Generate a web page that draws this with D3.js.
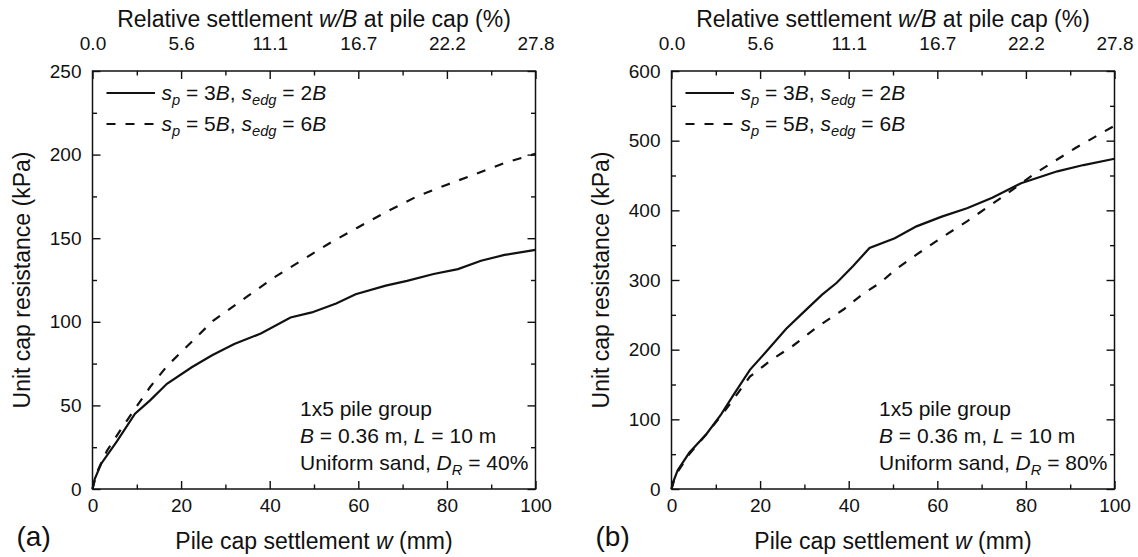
<!DOCTYPE html>
<html>
<meta charset="utf-8">
<head>
<script src="https://cdnjs.cloudflare.com/ajax/libs/d3/7.8.5/d3.min.js"></script>
</head>
<style>
body { margin: 0; background: #fff; }
svg { display: block; font-family: "Liberation Sans", Arial, sans-serif; }
.axis text { font-size: 19px; fill: #111; }
.axis line { stroke: #111; stroke-width: 1.4px; }
.axis .domain { display: none; }
.frame { fill: none; stroke: #111; stroke-width: 1.5px; }
.curve { fill: none; stroke: #111; stroke-width: 2.2px; }
.dash { stroke-dasharray: 9, 10; }
.title { font-size: 23px; fill: #111; }
.note { font-size: 21px; fill: #111; }
.tag { font-size: 28px; fill: #111; }
</style>
<body>
<svg id="canvas" width="1138" height="557"></svg>
<script>
// settlement w (mm) and unit cap resistance (kPa)
// (a) D_R = 40%
var wA_close = [0, 0.5, 2, 5.5, 9.6, 13, 16.8, 22.4, 27, 32, 38, 44.7, 49.5, 55, 59.4, 66.2, 71, 77, 82.5, 87.7, 93, 100];
var qA_close = [0, 6, 15.3, 28.5, 45, 53, 62.9, 72.8, 80, 86.7, 93, 102.6, 105.6, 111, 116.5, 121.6, 124.5, 128.6, 131.5, 136.5, 140, 143];
var wA_wide = [0, 1, 3.3, 6.5, 9.6, 13, 16.8, 22, 27.2, 35.1, 41, 47.1, 53.5, 59.8, 66.5, 73.4, 80, 86.1, 93, 100];
var qA_wide = [0, 10, 23, 36, 48, 61, 73.5, 87, 100.6, 115.5, 126.5, 136.5, 147, 156.3, 166, 175.2, 182, 188, 195, 200.5];
// (b) D_R = 80%
var wB_close = [0, 0.5, 1.4, 4, 7.9, 11.2, 14, 17.7, 21.5, 25.9, 30, 34, 37.3, 41, 44.7, 50.4, 55.3, 61, 66.7, 72.4, 78.9, 87.1, 93, 100];
var qB_close = [0, 12, 27, 52, 79, 107, 135, 171, 198, 230, 255, 279, 296, 320, 346, 360, 377, 391, 403, 418, 439, 456, 465, 474];
var wB_wide = [0, 0.5, 1.4, 4, 7.9, 11.2, 14, 17.7, 22.5, 27.5, 33, 38.9, 43, 47.1, 51, 55.3, 61, 66.7, 74.9, 82.2, 91.2, 100];
var qB_wide = [0, 11, 24.5, 50, 78.8, 105, 129, 161.3, 185, 206, 233, 258, 279, 296, 317, 336.4, 361, 384.2, 420.1, 453.6, 489.5, 521.5];

var xTicks = [0, 20, 40, 60, 80, 100];
var xMinor = [10, 30, 50, 70, 90];
var topTickLabels = ["0.0", "5.6", "11.1", "16.7", "22.2", "27.8"];
var yTicksA = [0, 50, 100, 150, 200, 250];
var yMinorA = [25, 75, 125, 175, 225];
var yTicksB = [0, 100, 200, 300, 400, 500, 600];
var yMinorB = [50, 150, 250, 350, 450, 550];
var densities = ["40%", "80%"];
var panelTags = ["(a)", "(b)"];

// rich text parts: [text, flags] with i = italic, s = subscript
var legendParts = [
  [["s", "i"], ["p", "is"], [" = 3"], ["B", "i"], [", "], ["s", "i"], ["edg", "is"], [" = 2"], ["B", "i"]],
  [["s", "i"], ["p", "is"], [" = 5"], ["B", "i"], [", "], ["s", "i"], ["edg", "is"], [" = 6"], ["B", "i"]]
];

const plotTop = 71, plotH = 418, plotW = 443;
const panels = [
  {left: 92.5, yMax: 250, yTicks: yTicksA, yMinor: yMinorA, tag: panelTags[0], dr: densities[0],
   series: [[wA_close, qA_close, false], [wA_wide, qA_wide, true]]},
  {left: 671.5, yMax: 600, yTicks: yTicksB, yMinor: yMinorB, tag: panelTags[1], dr: densities[1],
   series: [[wB_close, qB_close, false], [wB_wide, qB_wide, true]]}
];

const svg = d3.select('#canvas');

function addParts(text, parts) {
  var sub = false;
  parts.forEach(function(p) {
    var fl = p[1] || '';
    var ts = text.append('tspan').text(p[0]);
    if (fl.indexOf('i') >= 0) ts.style('font-style', 'italic');
    if (fl.indexOf('s') >= 0) {
      if (!sub) ts.attr('dy', 5);
      ts.style('font-size', '0.7em');
      sub = true;
    } else if (sub) {
      ts.attr('dy', -5);
      sub = false;
    }
  });
  return text;
}

panels.forEach(function(p) {
  var g = svg.append('g').attr('transform', `translate(${p.left},${plotTop})`);
  var x = d3.scaleLinear().domain([0, 100]).range([0, plotW]);
  var y = d3.scaleLinear().domain([0, p.yMax]).range([plotH, 0]);

  // bottom
  g.append('g').attr('class', 'axis').attr('transform', `translate(0,${plotH})`)
   .call(d3.axisBottom(x).tickValues(xTicks).tickSizeInner(-8).tickSizeOuter(0).tickPadding(10));
  g.append('g').attr('class', 'axis').attr('transform', `translate(0,${plotH})`)
   .call(d3.axisBottom(x).tickValues(xMinor).tickSizeInner(-4.5).tickSizeOuter(0).tickFormat(''));
  // top: w/B in %
  g.append('g').attr('class', 'axis')
   .call(d3.axisTop(x).tickValues(xTicks).tickSizeInner(-8).tickSizeOuter(0).tickPadding(21)
           .tickFormat((d, i) => topTickLabels[i]));
  g.append('g').attr('class', 'axis')
   .call(d3.axisTop(x).tickValues(xMinor).tickSizeInner(-4.5).tickSizeOuter(0).tickFormat(''));
  // left / right
  g.append('g').attr('class', 'axis')
   .call(d3.axisLeft(y).tickValues(p.yTicks).tickSizeInner(-8).tickSizeOuter(0).tickPadding(11));
  g.append('g').attr('class', 'axis')
   .call(d3.axisLeft(y).tickValues(p.yMinor).tickSizeInner(-4.5).tickSizeOuter(0).tickFormat(''));
  g.append('g').attr('class', 'axis').attr('transform', `translate(${plotW},0)`)
   .call(d3.axisRight(y).tickValues(p.yTicks).tickSizeInner(-8).tickSizeOuter(0).tickFormat(''));
  g.append('g').attr('class', 'axis').attr('transform', `translate(${plotW},0)`)
   .call(d3.axisRight(y).tickValues(p.yMinor).tickSizeInner(-4.5).tickSizeOuter(0).tickFormat(''));

  g.append('rect').attr('class', 'frame').attr('width', plotW).attr('height', plotH);

  var line = d3.line().x(d => x(d[0])).y(d => y(d[1]));
  p.series.forEach(function(s) {
    g.append('path').attr('class', s[2] ? 'curve dash' : 'curve')
     .attr('d', line(d3.zip(s[0], s[1])));
  });

  // legend
  [22, 53].forEach(function(ly, i) {
    g.append('line').attr('class', i ? 'curve dash' : 'curve')
     .attr('x1', 14).attr('x2', 62.5).attr('y1', ly).attr('y2', ly);
    addParts(g.append('text').attr('class', 'note').attr('x', 69).attr('y', ly + 7), legendParts[i]);
  });

  // notes
  g.append('text').attr('class', 'note').attr('x', 207.5).attr('y', 345).text('1x5 pile group');
  addParts(g.append('text').attr('class', 'note').attr('x', 207.5).attr('y', 372),
    [["B", "i"], [" = 0.36 m, "], ["L", "i"], [" = 10 m"]]);
  addParts(g.append('text').attr('class', 'note').attr('x', 207.5).attr('y', 399),
    [["Uniform sand, "], ["D", "i"], ["R", "is"], [" = " + p.dr]]);

  // titles
  addParts(g.append('text').attr('class', 'title').attr('x', plotW / 2).attr('y', -44)
    .attr('text-anchor', 'middle'), [["Relative settlement "], ["w/B", "i"], [" at pile cap (%)"]]);
  addParts(g.append('text').attr('class', 'title').attr('x', plotW / 2).attr('y', 478)
    .attr('text-anchor', 'middle'), [["Pile cap settlement "], ["w", "i"], [" (mm)"]]);
  g.append('text').attr('class', 'title').attr('text-anchor', 'middle')
   .attr('transform', `translate(-63,${plotH / 2}) rotate(-90)`)
   .text('Unit cap resistance (kPa)');
  g.append('text').attr('class', 'tag').attr('x', -76).attr('y', 475).text(p.tag);
});
</script>
</body>
</html>
